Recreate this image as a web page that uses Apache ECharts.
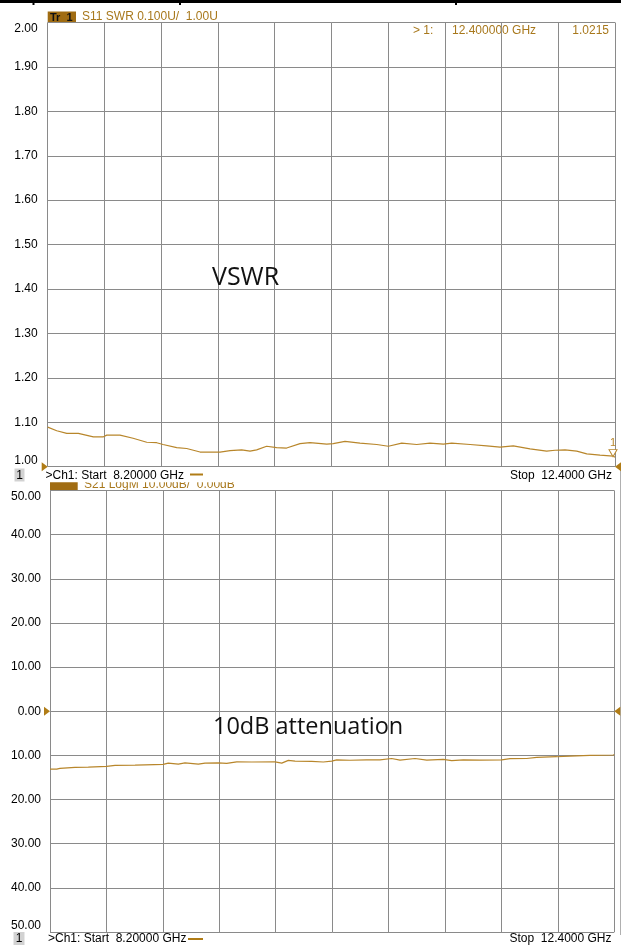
<!DOCTYPE html>
<html>
<head>
<meta charset="utf-8">
<script src="https://cdn.jsdelivr.net/npm/echarts@6/dist/echarts.min.js"></script>
<style>html,body{margin:0;padding:0;background:#fff;}#c{width:621px;height:947px;}</style>
</head>
<body>
<div id="c"></div>
<script>
// ---------- data ----------
const s11Freq = [8.20, 8.267, 8.341, 8.427, 8.538, 8.609, 8.637, 8.735, 8.832, 8.933, 9.007, 9.054, 9.155, 9.229, 9.328, 9.476, 9.550, 9.636, 9.698, 9.747, 9.821, 9.895, 9.969, 10.068, 10.142, 10.266, 10.314, 10.401, 10.512, 10.636, 10.722, 10.821, 10.932, 11.030, 11.129, 11.191, 11.327, 11.450, 11.549, 11.647, 11.771, 11.894, 11.956, 12.030, 12.117, 12.191, 12.289, 12.387, 12.400];
const s11Vswr = [1.089, 1.081, 1.075, 1.075, 1.067, 1.067, 1.071, 1.071, 1.064, 1.055, 1.054, 1.050, 1.043, 1.041, 1.033, 1.033, 1.036, 1.038, 1.035, 1.038, 1.046, 1.043, 1.042, 1.052, 1.054, 1.051, 1.052, 1.057, 1.053, 1.050, 1.046, 1.053, 1.050, 1.053, 1.051, 1.053, 1.050, 1.047, 1.044, 1.047, 1.040, 1.035, 1.037, 1.038, 1.035, 1.029, 1.026, 1.024, 1.0215];

const s21Freq = [8.200, 8.250, 8.274, 8.386, 8.485, 8.622, 8.684, 8.833, 8.907, 9.043, 9.080, 9.155, 9.205, 9.304, 9.354, 9.453, 9.515, 9.590, 9.701, 9.875, 9.925, 9.974, 10.024, 10.148, 10.234, 10.297, 10.334, 10.433, 10.557, 10.656, 10.743, 10.805, 10.917, 11.004, 11.127, 11.190, 11.276, 11.400, 11.562, 11.624, 11.748, 11.822, 11.971, 12.070, 12.219, 12.392, 12.400];
const s21dB = [-13.1, -13.1, -12.95, -12.7, -12.65, -12.5, -12.27, -12.2, -12.13, -12.05, -11.75, -11.97, -11.68, -11.97, -11.75, -11.68, -11.8, -11.45, -11.5, -11.45, -11.75, -11.13, -11.3, -11.37, -11.5, -11.3, -11.0, -11.1, -11.0, -11.0, -10.7, -11.06, -10.7, -11.06, -10.9, -11.2, -11.0, -11.06, -11.0, -10.75, -10.7, -10.45, -10.3, -10.16, -10.0, -9.88, -9.85];

// tick labels, bottom to top
const vswrTickLabels = ['1.00','1.10','1.20','1.30','1.40','1.50','1.60','1.70','1.80','1.90','2.00'];
const s21TickLabels = ['50.00','40.00','30.00','20.00','10.00','0.00','10.00','20.00','30.00','40.00','50.00'];

const marker1 = {freq: 12.4, value: 1.0215};
const startFreq = 8.2, stopFreq = 12.4;

// ---------- styles ----------
const TRACE = '#b8862b';
const BROWN = '#a8781c';
const GRIDC = '#8a8a8a';
const FONT = 'Liberation Sans, Arial, sans-serif';

const chart = echarts.init(document.getElementById('c'), null, {renderer: 'canvas'});

function refMarks(yVal) {
  return [
    {coord: [startFreq, yVal], symbol: 'triangle', symbolSize: [9, 6], symbolRotate: -90, symbolOffset: [-3, 0],
      itemStyle: {color: '#b07c16', borderWidth: 0}, label: {show: false}},
    {coord: [stopFreq, yVal], symbol: 'triangle', symbolSize: [9, 6], symbolRotate: 90, symbolOffset: [3, 0],
      itemStyle: {color: '#b07c16', borderWidth: 0}, label: {show: false}}
  ];
}

function helperX(gridIndex) {
  return {type: 'value', gridIndex, min: 0, max: 10, interval: 1, show: true,
    axisLine: {show: false}, axisTick: {show: false}, axisLabel: {show: false},
    splitLine: {show: true, lineStyle: {color: GRIDC, width: 1}}};
}
function freqX(gridIndex) {
  return {type: 'value', gridIndex, min: startFreq, max: stopFreq, show: false, splitLine: {show: false}};
}

const option = {
  animation: false,
  backgroundColor: '#fff',
  grid: [
    {left: 47.7, top: 22.5, width: 567.3, height: 444.2},
    {left: 50, top: 490.5, width: 564.3, height: 441.5}
  ],
  xAxis: [freqX(0), helperX(0), freqX(1), helperX(1)],
  yAxis: [
    {type: 'value', gridIndex: 0, min: 1, max: 2, interval: 0.1,
      axisLine: {show: false}, axisTick: {show: false},
      axisLabel: {margin: 10, color: '#000', fontFamily: FONT, fontSize: 12,
        verticalAlignMaxLabel: 'top', verticalAlignMinLabel: 'bottom',
        formatter: v => vswrTickLabels[Math.round((v - 1) * 10)]},
      splitLine: {show: true, lineStyle: {color: GRIDC, width: 1}}},
    {type: 'value', gridIndex: 1, min: -50, max: 50, interval: 10,
      axisLine: {show: false}, axisTick: {show: false},
      axisLabel: {margin: 9, color: '#000', fontFamily: FONT, fontSize: 12,
        verticalAlignMaxLabel: 'top', verticalAlignMinLabel: 'bottom',
        formatter: v => s21TickLabels[Math.round((v + 50) / 10)]},
      splitLine: {show: true, lineStyle: {color: GRIDC, width: 1}}}
  ],
  series: [
    {type: 'line', xAxisIndex: 0, yAxisIndex: 0, showSymbol: false, symbol: 'none',
      data: s11Freq.map((f, i) => [f, s11Vswr[i]]),
      lineStyle: {color: TRACE, width: 1.2}, itemStyle: {color: TRACE},
      markPoint: {silent: true, animation: false, data: [
        ...refMarks(1.0),
        {coord: [marker1.freq, marker1.value], symbol: 'triangle', symbolSize: [8, 7], symbolRotate: 180,
          symbolOffset: [-2, -4], itemStyle: {color: '#fff', borderColor: TRACE, borderWidth: 1},
          label: {show: true, position: 'top', distance: 1, formatter: '1', color: TRACE, fontSize: 11, fontFamily: FONT}}
      ]}},
    {type: 'line', xAxisIndex: 2, yAxisIndex: 1, showSymbol: false, symbol: 'none',
      data: s21Freq.map((f, i) => [f, s21dB[i]]),
      lineStyle: {color: TRACE, width: 1.2}, itemStyle: {color: TRACE},
      markPoint: {silent: true, animation: false, data: refMarks(0)}}
  ],
  graphic: [
    // top border artifact
    {type: 'rect', shape: {x: 0, y: 0, width: 621, height: 3}, style: {fill: '#000'}},
    {type: 'rect', shape: {x: 32.5, y: 0, width: 2, height: 5}, style: {fill: '#000'}},
    {type: 'rect', shape: {x: 179, y: 0, width: 2, height: 5}, style: {fill: '#000'}},
    {type: 'rect', shape: {x: 455, y: 0, width: 2, height: 5}, style: {fill: '#000'}},
    // top trace header
    {type: 'rect', shape: {x: 47.7, y: 11.5, width: 28.3, height: 11.2}, style: {fill: '#a06c12'}},
    {type: 'text', x: 50, y: 17.5, style: {text: 'Tr  1', fill: '#111', font: 'bold 11px ' + FONT, verticalAlign: 'middle'}},
    {type: 'text', x: 82, y: 16.5, style: {text: 'S11 SWR 0.100U/  1.00U', fill: BROWN, font: '12px ' + FONT, verticalAlign: 'middle'}},
    {type: 'text', x: 413, y: 30.5, style: {text: '> 1:', fill: BROWN, font: '12px ' + FONT, verticalAlign: 'middle'}},
    {type: 'text', x: 452, y: 30.5, style: {text: '12.400000 GHz', fill: BROWN, font: '12px ' + FONT, verticalAlign: 'middle'}},
    {type: 'text', x: 609, y: 30.5, style: {text: '1.0215', fill: BROWN, font: '12px ' + FONT, align: 'right', verticalAlign: 'middle'}},
    // bottom trace header (partially hidden)
    {type: 'rect', z: 0, shape: {x: 50, y: 478, width: 27.7, height: 12}, style: {fill: '#a06c12'}},
    {type: 'text', z: 0, x: 84, y: 484.5, style: {text: 'S21 LogM 10.00dB/  0.00dB', fill: BROWN, font: '12px ' + FONT, verticalAlign: 'middle'}},
    {type: 'rect', z: 1, shape: {x: 0, y: 467.6, width: 616, height: 14.6}, style: {fill: '#fff'}},
    // stimulus lines
    {type: 'rect', z: 2, shape: {x: 14.5, y: 468.5, width: 10, height: 13}, style: {fill: '#d2d2d2'}},
    {type: 'text', z: 2, x: 19.5, y: 475.5, style: {text: '1', fill: '#000', font: '12px ' + FONT, align: 'center', verticalAlign: 'middle'}},
    {type: 'text', z: 2, x: 45.5, y: 475.5, style: {text: '>Ch1: Start  8.20000 GHz', fill: '#000', font: '12px ' + FONT, verticalAlign: 'middle'}},
    {type: 'line', z: 2, shape: {x1: 190, y1: 474.5, x2: 203, y2: 474.5}, style: {stroke: '#b07c16', lineWidth: 2}},
    {type: 'text', z: 2, x: 612, y: 475.5, style: {text: 'Stop  12.4000 GHz', fill: '#000', font: '12px ' + FONT, align: 'right', verticalAlign: 'middle'}},
    {type: 'rect', z: 2, shape: {x: 13.5, y: 932, width: 11, height: 13}, style: {fill: '#d2d2d2'}},
    {type: 'text', z: 2, x: 19, y: 939, style: {text: '1', fill: '#000', font: '12px ' + FONT, align: 'center', verticalAlign: 'middle'}},
    {type: 'text', z: 2, x: 48, y: 939, style: {text: '>Ch1: Start  8.20000 GHz', fill: '#000', font: '12px ' + FONT, verticalAlign: 'middle'}},
    {type: 'line', z: 2, shape: {x1: 188, y1: 939, x2: 203, y2: 939}, style: {stroke: '#b07c16', lineWidth: 2}},
    {type: 'text', z: 2, x: 611.5, y: 939, style: {text: 'Stop  12.4000 GHz', fill: '#000', font: '12px ' + FONT, align: 'right', verticalAlign: 'middle'}},
    // right edge line
    {type: 'line', z: 2, shape: {x1: 620.5, y1: 470, x2: 620.5, y2: 935}, style: {stroke: '#b0b0b0', lineWidth: 1}},
    // annotations
    {type: 'text', z: 3, x: 212, y: 277.5, style: {text: 'VSWR', fill: '#111', font: '25px "Open Sans", sans-serif', verticalAlign: 'middle'}},
    {type: 'text', z: 3, x: 213, y: 727.5, style: {text: '10dB attenuation', fill: '#111', font: '23.5px "Open Sans", sans-serif', verticalAlign: 'middle'}}
  ]
};
chart.setOption(option);
</script>
</body>
</html>
